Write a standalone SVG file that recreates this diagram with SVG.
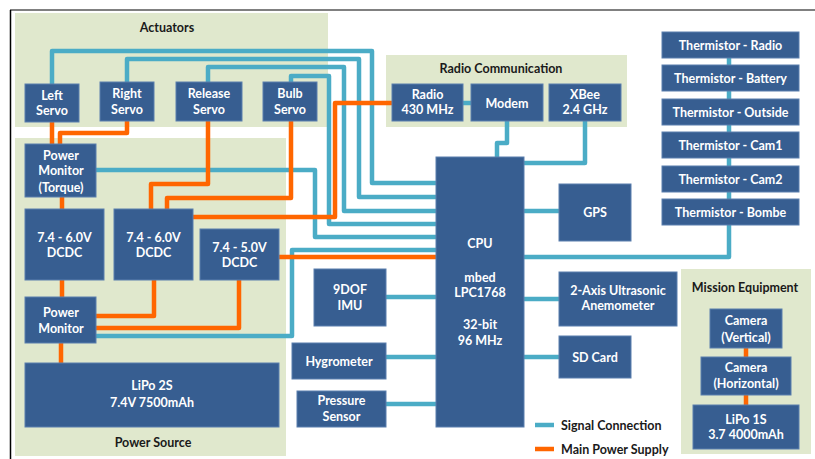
<svg xmlns="http://www.w3.org/2000/svg" width="815" height="459" viewBox="0 0 815 459">
<style>
.panel{fill:#e0e8cd}
.node rect{fill:#375e91;stroke:#5b7fae;stroke-width:1}
.node text{fill:#fff;font-family:Lato,"Liberation Sans",sans-serif;font-weight:bold;font-size:12.5px;text-anchor:middle}
.title{fill:#1a1a1a;font-family:Lato,"Liberation Sans",sans-serif;font-weight:bold;font-size:12.5px;text-anchor:middle}
.legend{fill:#1a1a1a;font-family:Lato,"Liberation Sans",sans-serif;font-weight:bold;font-size:12.5px}
.sig{fill:none;stroke:#4bacc6;stroke-width:4.5;stroke-linejoin:round}
.pwr{fill:none;stroke:#ff6600;stroke-width:4.5;stroke-linejoin:round}
</style>
<rect width="815" height="459" fill="#fff"/>
<line x1="10" y1="10" x2="815" y2="10" stroke="#808080" stroke-width="2"/>
<line x1="10.5" y1="10" x2="10.5" y2="459" stroke="#000" stroke-width="1.5"/>

<g id="panels">
<rect class="panel" x="15" y="13" width="313" height="114"/>
<rect class="panel" x="15" y="138" width="271" height="318"/>
<rect class="panel" x="386" y="55" width="241" height="72"/>
<rect class="panel" x="681" y="269" width="130" height="185"/>
<text class="title" x="167" y="32">Actuators</text>
<text class="title" x="153" y="447">Power Source</text>
<text class="title" x="501" y="73">Radio Communication</text>
<text class="title" x="745" y="292">Mission Equipment</text>
</g>

<g id="connectors">
<!-- signal -->
<path class="sig" d="M52,84 V51 H372 V183 H436"/>
<path class="sig" d="M127,82 V59 H359 V197 H436"/>
<path class="sig" d="M208,82 V67 H344 V211 H436"/>
<path class="sig" d="M291,82 V76 H329 V224 H436"/>
<path class="sig" d="M96,170 H315 V237 H436"/>
<path class="sig" d="M96,336 H292 V250 H436"/>
<path class="sig" d="M463,103 H471"/>
<path class="sig" d="M507,121 V143 H497 V157"/>
<path class="sig" d="M585,121 V163 H524"/>
<path class="sig" d="M524,211 H559"/>
<path class="sig" d="M524,299 H559"/>
<path class="sig" d="M524,357 H559"/>
<path class="sig" d="M386,297 H436"/>
<path class="sig" d="M386,357 H436"/>
<path class="sig" d="M386,404 H436"/>
<path class="sig" d="M729,58 V257 H524"/>
<!-- power -->
<path class="pwr" d="M52,122 V144"/>
<path class="pwr" d="M127,121 V133 H60 V144"/>
<path class="pwr" d="M208,121 V184 H151 V209"/>
<path class="pwr" d="M291,121 V198 H167 V209"/>
<path class="pwr" d="M193,217 H335 V103 H392"/>
<path class="pwr" d="M62,197 V209"/>
<path class="pwr" d="M62,280 V297"/>
<path class="pwr" d="M61,343 V363"/>
<path class="pwr" d="M96,316 H154 V280"/>
<path class="pwr" d="M96,328 H239 V280"/>
<path class="pwr" d="M279,257 H436"/>
<path class="pwr" d="M746,348 V357"/>
<path class="pwr" d="M746,395 V405"/>
</g>

<g id="n-left-servo" class="node"><rect x="25" y="84" width="54" height="38"/><text x="52" y="100">Left</text><text x="52" y="115">Servo</text></g>
<g id="n-right-servo" class="node"><rect x="100" y="82" width="54" height="39"/><text x="127" y="98">Right</text><text x="127" y="113.5">Servo</text></g>
<g id="n-release-servo" class="node"><rect x="176" y="82" width="66" height="39"/><text x="209" y="98">Release</text><text x="209" y="113.5">Servo</text></g>
<g id="n-bulb-servo" class="node"><rect x="263" y="82" width="54" height="39"/><text x="290" y="98">Bulb</text><text x="290" y="113.5">Servo</text></g>

<g id="n-radio" class="node"><rect x="392" y="84" width="71" height="37"/><text x="427.5" y="99">Radio</text><text x="427.5" y="114">430 MHz</text></g>
<g id="n-modem" class="node"><rect x="471" y="84" width="72" height="37"/><text x="507" y="107.5">Modem</text></g>
<g id="n-xbee" class="node"><rect x="549" y="84" width="72" height="37"/><text x="585" y="99">XBee</text><text x="585" y="114">2.4 GHz</text></g>

<g id="n-cpu" class="node"><rect x="436" y="157" width="88" height="270"/>
<text x="480" y="248">CPU</text><text x="480" y="281.5">mbed</text><text x="480" y="297">LPC1768</text><text x="480" y="329">32-bit</text><text x="480" y="345">96 MHz</text></g>

<g id="n-gps" class="node"><rect x="559" y="184" width="72" height="57"/><text x="595" y="217">GPS</text></g>
<g id="n-anemometer" class="node"><rect x="559" y="272" width="118" height="54"/><text x="618" y="295">2-Axis Ultrasonic</text><text x="618" y="310">Anemometer</text></g>
<g id="n-sdcard" class="node"><rect x="559" y="336" width="72" height="42"/><text x="595" y="361.5">SD Card</text></g>

<g id="n-imu" class="node"><rect x="314" y="269" width="72" height="57"/><text x="350" y="294">9DOF</text><text x="350" y="310">IMU</text></g>
<g id="n-hygrometer" class="node"><rect x="292" y="343" width="94" height="36"/><text x="339" y="366">Hygrometer</text></g>
<g id="n-pressure" class="node"><rect x="297" y="391" width="89" height="36"/><text x="341.5" y="405">Pressure</text><text x="341.5" y="421">Sensor</text></g>

<g id="n-th-radio" class="node"><rect x="662" y="32" width="137" height="26"/><text x="730.5" y="49.5">Thermistor - Radio</text></g>
<g id="n-th-battery" class="node"><rect x="662" y="65" width="137" height="26"/><text x="730.5" y="82.5">Thermistor - Battery</text></g>
<g id="n-th-outside" class="node"><rect x="662" y="99" width="137" height="26"/><text x="730.5" y="116.5">Thermistor - Outside</text></g>
<g id="n-th-cam1" class="node"><rect x="662" y="132" width="137" height="26"/><text x="730.5" y="149.5">Thermistor - Cam1</text></g>
<g id="n-th-cam2" class="node"><rect x="662" y="166" width="137" height="26"/><text x="730.5" y="183.5">Thermistor - Cam2</text></g>
<g id="n-th-bombe" class="node"><rect x="662" y="199" width="137" height="26"/><text x="730.5" y="216.5">Thermistor - Bombe</text></g>

<g id="n-pm-torque" class="node"><rect x="25" y="144" width="71" height="53"/><text x="61" y="159.5">Power</text><text x="61" y="175">Monitor</text><text x="61" y="191.5">(Torque)</text></g>
<g id="n-dcdc1" class="node"><rect x="25" y="209" width="79" height="71"/><text x="64.5" y="241.5">7.4 - 6.0V</text><text x="64.5" y="257">DCDC</text></g>
<g id="n-dcdc2" class="node"><rect x="114" y="209" width="79" height="71"/><text x="153.5" y="241.5">7.4 - 6.0V</text><text x="153.5" y="257">DCDC</text></g>
<g id="n-dcdc3" class="node"><rect x="200" y="229" width="79" height="51"/><text x="239.5" y="251.5">7.4 - 5.0V</text><text x="239.5" y="267">DCDC</text></g>
<g id="n-pm" class="node"><rect x="25" y="297" width="71" height="46"/><text x="61" y="317">Power</text><text x="61" y="332.5">Monitor</text></g>
<g id="n-lipo2s" class="node"><rect x="25" y="363" width="254" height="64"/><text x="152" y="390">LiPo 2S</text><text x="152" y="407">7.4V 7500mAh</text></g>

<g id="n-cam-v" class="node"><rect x="710" y="309" width="72" height="39"/><text x="746" y="325">Camera</text><text x="746" y="341.5">(Vertical)</text></g>
<g id="n-cam-h" class="node"><rect x="701" y="357" width="90" height="38"/><text x="746" y="371.5">Camera</text><text x="746" y="387.5">(Horizontal)</text></g>
<g id="n-lipo1s" class="node"><rect x="693" y="405" width="106" height="44"/><text x="746" y="423.5">LiPo 1S</text><text x="746" y="438.5">3.7 4000mAh</text></g>

<g id="legend">
<line x1="535" y1="425" x2="554" y2="425" class="sig"/>
<line x1="535" y1="449" x2="554" y2="449" class="pwr"/>
<text class="legend" x="561" y="429.5">Signal Connection</text>
<text class="legend" x="561" y="453.5">Main Power Supply</text>
</g>
</svg>
